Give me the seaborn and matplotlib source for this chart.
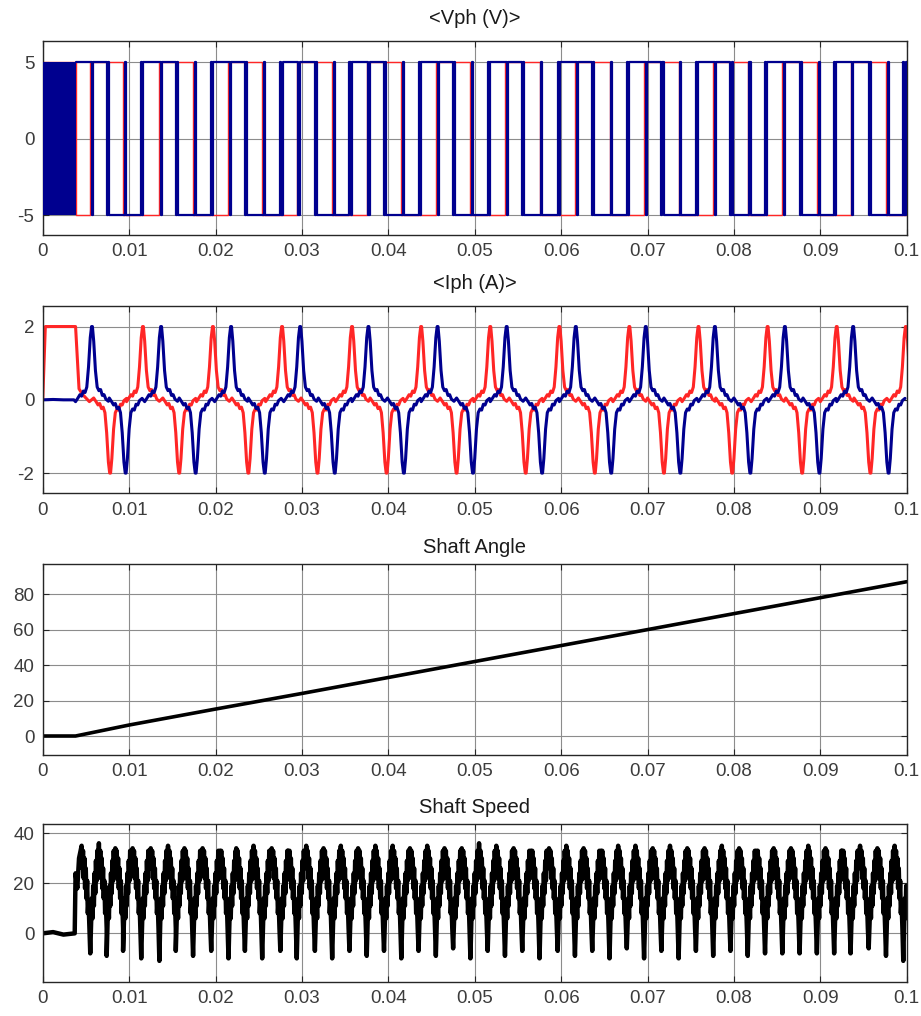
import numpy as np
import pandas as pd
import seaborn as sns
import matplotlib.pyplot as plt

# ---------------- values (time in s) ----------------
time_ticks = [0, 0.01, 0.02, 0.03, 0.04, 0.05, 0.06, 0.07, 0.08, 0.09, 0.1]
time_labels = ['0', '0.01', '0.02', '0.03', '0.04', '0.05', '0.06', '0.07', '0.08', '0.09', '0.1']

# <Vph (V)> : blue phase is chopped until chop_end, then both phases switch +-5 V
chop_end = 0.0039
red_v_edges = [0.0039, 0.0055, 0.0093, 0.0135, 0.0174, 0.0215, 0.0254, 0.0294, 0.0335,
               0.0375, 0.0415, 0.0455, 0.0495, 0.0535, 0.0575, 0.0616, 0.0656, 0.0696,
               0.0736, 0.0776, 0.0816, 0.0856, 0.0896, 0.0935, 0.0976]
red_v_levels = [-5, 5, -5, 5, -5, 5, -5, 5, -5, 5, -5, 5, -5, 5, -5, 5, -5, 5, -5, 5,
                -5, 5, -5, 5, -5]
blue_v_edges = [0.0074, 0.0114, 0.0154, 0.0195, 0.0234, 0.0275, 0.0315, 0.0355, 0.0395,
                0.0435, 0.0475, 0.0515, 0.0555, 0.0596, 0.0636, 0.0676, 0.0716, 0.0756,
                0.0796, 0.0836, 0.0876, 0.0916, 0.0956, 0.0996]
blue_v_levels = [-5, 5, -5, 5, -5, 5, -5, 5, -5, 5, -5, 5, -5, 5, -5, 5, -5, 5, -5, 5,
                 -5, 5, -5, 5]
# short blue blips seen right after every red switching edge
blue_v_blips = [0.0057, 0.0095, 0.0137, 0.0176, 0.0217, 0.0256, 0.0296, 0.0337, 0.0377,
                0.0417, 0.0457, 0.0497, 0.0537, 0.0577, 0.0618, 0.0658, 0.0698, 0.0738,
                0.0778, 0.0818, 0.0858, 0.0898, 0.0937, 0.0978]

# <Iph (A)> : spike times of the two phase currents
red_i_pos = [0.0116, 0.0197, 0.0277, 0.0358, 0.0438, 0.0518, 0.0598, 0.0679, 0.0759,
             0.0839, 0.0919, 0.0999]
red_i_neg = [0.0078, 0.0158, 0.0238, 0.0318, 0.0398, 0.0479, 0.0559, 0.0639, 0.0719,
             0.0798, 0.0879, 0.0958]
blue_i_pos = [0.0057, 0.0137, 0.0218, 0.0298, 0.0377, 0.0457, 0.0537, 0.0617, 0.0698,
              0.0778, 0.0859, 0.0938]
blue_i_neg = [0.0096, 0.0177, 0.0257, 0.0338, 0.0418, 0.0498, 0.0578, 0.0658, 0.0738,
              0.0819, 0.0899, 0.0979]
# shape around one spike (offset in ms)
spike_off_ms = [-1.9, -1.6, -1.4, -1.2, -1.0, -0.8, -0.6, -0.4, -0.2, -0.05, 0.05, 0.2,
                0.4, 0.6, 0.8, 1.0, 1.2, 1.4, 1.6, 1.9]
spike_pos_val = [-0.05, 0.06, 0.14, 0.1, 0.24, 0.2, 0.35, 0.9, 1.7, 2.0, 2.0, 1.6,
                 0.8, 0.35, 0.25, 0.28, 0.12, 0.14, 0.02, -0.04]
spike_neg_val = [0.05, -0.06, -0.14, -0.1, -0.24, -0.2, -0.35, -0.9, -1.7, -2.0, -2.0, -1.6,
                 -0.8, -0.35, -0.25, -0.28, -0.12, -0.14, -0.02, 0.04]
red_i_start_t = [0, 0.0003, 0.0038, 0.0042, 0.0046, 0.0050, 0.0054]
red_i_start_v = [0, 2.0, 2.0, 0.3, 0.15, 0.05, -0.05]
blue_i_start_t = [0, 0.0012, 0.0024, 0.0036]
blue_i_start_v = [0, 0.01, 0.0, 0.0]

# Shaft Angle
angle_t = [0, 0.0038, 0.01, 0.02, 0.03, 0.04, 0.05, 0.06, 0.07, 0.08, 0.09, 0.1]
angle_v = [0, 0, 6.2, 15.2, 24, 33, 42, 51, 60, 69, 78, 87]

# Shaft Speed : one peak and one dip per step
speed_start_t = [0, 0.0012, 0.0024, 0.0037, 0.0038, 0.0040, 0.0042]
speed_start_v = [0, 0.5, -0.5, 0, 24, 18, 30]
speed_peak_t = [0.0045, 0.0065, 0.0084, 0.0104, 0.0125, 0.0145, 0.0164, 0.0185, 0.0205,
                0.0224, 0.0244, 0.0265, 0.0284, 0.0305, 0.0325, 0.0345, 0.0365, 0.0385,
                0.0405, 0.0425, 0.0445, 0.0465, 0.0485, 0.0505, 0.0525, 0.0545, 0.0565,
                0.0586, 0.0606, 0.0626, 0.0646, 0.0666, 0.0686, 0.0706, 0.0726, 0.0746,
                0.0766, 0.0786, 0.0806, 0.0826, 0.0846, 0.0866, 0.0886, 0.0906, 0.0925,
                0.0946, 0.0966, 0.0986]
speed_peak_v = [35, 36, 34, 34, 34, 35, 34, 34, 33, 34, 35, 34, 33, 35, 34, 35, 34, 35,
                35, 34, 35, 34, 34, 36, 35, 34, 33, 34, 35, 34, 33, 35, 35, 34, 35, 34,
                34, 35, 34, 33, 34, 34, 35, 34, 33, 35, 34, 35]
speed_min_t = [0.0055, 0.0074, 0.0093, 0.0114, 0.0135, 0.0154, 0.0174, 0.0195, 0.0215,
               0.0234, 0.0254, 0.0275, 0.0294, 0.0315, 0.0335, 0.0355, 0.0375, 0.0395,
               0.0415, 0.0435, 0.0455, 0.0475, 0.0495, 0.0515, 0.0535, 0.0555, 0.0575,
               0.0596, 0.0616, 0.0636, 0.0656, 0.0676, 0.0696, 0.0716, 0.0736, 0.0756,
               0.0776, 0.0796, 0.0816, 0.0836, 0.0856, 0.0876, 0.0896, 0.0916, 0.0935,
               0.0956, 0.0976, 0.0996]
speed_min_v = [-8, -9, -7, -10, -11, -7, -9, -7, -10, -7, -10, -7, -10, -7, -10, -7, -9, -7,
               -10, -7, -9, -6, -10, -7, -9, -7, -10, -7, -9, -7, -10, -6, -10, -7, -10, -7,
               -9, -7, -9, -8, -8, -8, -8, -8, -8, -6, -9, -11]
fall_off_ms = [0.08, 0.16, 0.24, 0.32, 0.4, 0.48, 0.56, 0.64, 0.72, 0.8, 0.9]
fall_val = [26, 33, 22, 30, 18, 26, 14, 21, 8, 13, 2]
rise_off_ms = [0.1, 0.18, 0.26, 0.34, 0.42, 0.5, 0.58, 0.66, 0.74, 0.82, 0.9]
rise_val = [4, 14, 6, 19, 11, 24, 16, 29, 21, 33, 26]

# ---------------- assemble traces ----------------
BURST = 1.3e-4  # each switching shows as a short burst of chopping


def step_trace(t0, v0, edges, levels, t_end=0.1):
    t, v = [t0], [v0]
    for e, lv in zip(edges, levels):
        t += [e, e]
        v += [v[-1], lv]
    t.append(t_end)
    v.append(v[-1])
    return t, v

red_vt, red_vv = step_trace(0.0, 5, red_v_edges, red_v_levels)

events = sorted([(t, 'edge', lv) for t, lv in zip(blue_v_edges, blue_v_levels)] +
                [(t, 'blip', 0) for t in blue_v_blips])
blue_vt, blue_vv = [chop_end], [5]
lvl = 5
for t, kind, lv in events:
    new = lv if kind == 'edge' else lvl
    blue_vt += [t, t, t + BURST, t + BURST, t + 2 * BURST, t + 2 * BURST]
    blue_vv += [lvl, -lvl, -lvl, lvl, lvl, -lvl] if kind == 'edge' else \
               [lvl, -lvl, -lvl, lvl, lvl, lvl]
    lvl = new
blue_vt.append(0.1)
blue_vv.append(lvl)


def current_trace(t0, v0, pos, neg):
    t, v = list(t0), list(v0)
    spikes = sorted([(p, spike_pos_val) for p in pos] + [(n, spike_neg_val) for n in neg])
    for c, vals in spikes:
        t += [c + o / 1000 for o in spike_off_ms]
        v += vals
    return t, v

red_it, red_iv = current_trace(red_i_start_t, red_i_start_v, red_i_pos, red_i_neg)
blue_it, blue_iv = current_trace(blue_i_start_t, blue_i_start_v, blue_i_pos, blue_i_neg)

spd_t, spd_v = list(speed_start_t), list(speed_start_v)
for pk_t, pk_v, mn_t, mn_v in zip(speed_peak_t, speed_peak_v, speed_min_t, speed_min_v):
    spd_t.append(pk_t); spd_v.append(pk_v)
    spd_t += [pk_t + o / 1000 for o in fall_off_ms]; spd_v += fall_val
    spd_t.append(mn_t); spd_v.append(mn_v)
    spd_t += [mn_t + o / 1000 for o in rise_off_ms]; spd_v += rise_val

# ---------------- plotting ----------------
sns.set_theme(style="whitegrid")
plt.rcParams['font.family'] = ['Liberation Sans', 'DejaVu Sans']
plt.rcParams['axes.unicode_minus'] = False

RED = '#ff2626'
BLUE = '#00008f'

fig = plt.figure(figsize=(9.21, 10.16), dpi=100)
left, width = 0.0464, 0.9381
axes = [fig.add_axes([left, 0.7687, width, 0.1910]),
        fig.add_axes([left, 0.5145, width, 0.1843]),
        fig.add_axes([left, 0.2569, width, 0.1880]),
        fig.add_axes([left, 0.0338, width, 0.1552])]
titles = ['<Vph (V)>', '<Iph (A)>', 'Shaft Angle', 'Shaft Speed']
title_pads = [12, 12, 8, 8]

ax = axes[0]
ax.fill_between([0, chop_end], -5, 5, color=BLUE, lw=0, zorder=3)
sns.lineplot(x=red_vt, y=red_vv, ax=ax, color=RED, lw=1.0, estimator=None, sort=False, zorder=2)
sns.lineplot(x=blue_vt, y=blue_vv, ax=ax, color=BLUE, lw=1.6, estimator=None, sort=False, zorder=3)
ax.set_ylim(-6.3, 6.4)
ax.set_yticks([-5, 0, 5])

ax = axes[1]
sns.lineplot(x=red_it, y=red_iv, ax=ax, color=RED, lw=2.2, estimator=None, sort=False)
sns.lineplot(x=blue_it, y=blue_iv, ax=ax, color=BLUE, lw=2.2, estimator=None, sort=False)
ax.set_ylim(-2.55, 2.56)
ax.set_yticks([-2, 0, 2])

ax = axes[2]
sns.lineplot(x=angle_t, y=angle_v, ax=ax, color='black', lw=2.6, estimator=None, sort=False)
ax.set_ylim(-10.7, 97)
ax.set_yticks([0, 20, 40, 60, 80])

ax = axes[3]
sns.lineplot(x=spd_t, y=spd_v, ax=ax, color='black', lw=3.2, estimator=None, sort=False)
ax.set_ylim(-19.3, 43.7)
ax.set_yticks([0, 20, 40])

for ax, title, pad in zip(axes, titles, title_pads):
    ax.set_xlim(0, 0.1)
    ax.set_xticks(time_ticks)
    ax.set_xticklabels(time_labels)
    ax.set_xlabel('')
    ax.set_ylabel('')
    ax.set_facecolor('white')
    ax.grid(True, color='#8c8c8c', lw=0.8)
    ax.set_axisbelow(True)
    for s in ax.spines.values():
        s.set_color('#262626')
        s.set_linewidth(1.0)
    ax.tick_params(axis='both', labelsize=13.5, labelcolor='#3c3c3c', direction='in',
                   length=4, width=0.8, color='#262626', left=True, right=True, bottom=True,
                   top=True, pad=6)
    ax.set_title(title, pad=pad, fontsize=14.5, color='#1a1a1a')

fig.savefig('out.png', dpi=100, facecolor='white')
